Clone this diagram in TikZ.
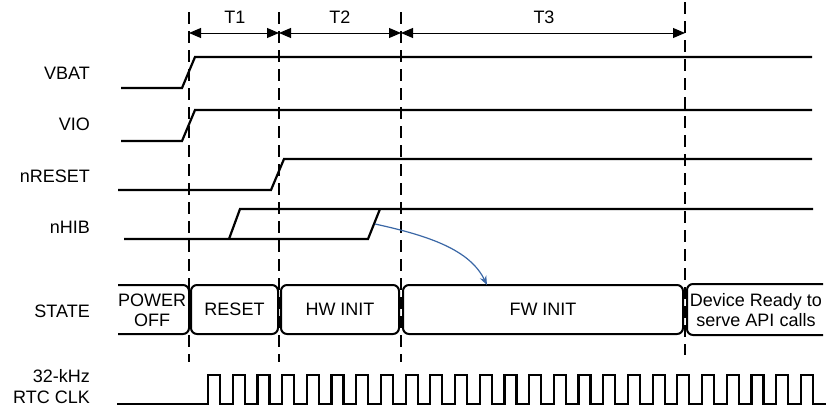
\documentclass[tikz,border=0pt]{standalone}
\usepackage{fontspec}
\setmainfont{Liberation Sans}
\usetikzlibrary{arrows.meta}
\definecolor{arrowblue}{HTML}{3A67A6}
\begin{document}
\begin{tikzpicture}[x=1pt,y=-1pt,
  every node/.style={inner sep=0pt, font=\fontsize{18}{20}\selectfont},
  siglabel/.style={anchor=base east},
  signal/.style={line width=2.2pt, line join=miter},
  dashline/.style={line width=1.3pt, dash pattern=on 12pt off 7pt},
  tarrow/.style={line width=1pt, {Triangle[length=12pt,width=10pt]}-{Triangle[length=12pt,width=10pt]}},
  statebox/.style={draw, line width=2pt, rounded corners=6pt, minimum height=49pt},
  openbox/.style={line width=2pt, rounded corners=6pt},
  wakearrow/.style={draw=arrowblue, line width=1.2pt, -{Stealth[length=9pt,width=7pt]}}]
\useasboundingbox (0,0) rectangle (828,410);

% dashed timing markers
\coordinate (d1t) at (189,12);  \coordinate (d1b) at (189,362);
\coordinate (d2t) at (279,12);  \coordinate (d2b) at (279,362);
\coordinate (d3t) at (401,12);  \coordinate (d3b) at (401,362);
\coordinate (d4t) at (685,2);   \coordinate (d4b) at (685,355);
\draw[dashline] (d1t) -- (d1b);
\draw[dashline] (d2t) -- (d2b);
\draw[dashline] (d3t) -- (d3b);
\draw[dashline] (d4t) -- (d4b);

% interval arrows
\coordinate (a1) at (189,33);
\coordinate (a2) at (279,33);
\coordinate (a3) at (401,33);
\coordinate (a4) at (685,33);
\draw[tarrow] (a1) -- (a2);
\draw[tarrow] (a2) -- (a3);
\draw[tarrow] (a3) -- (a4);
\node[anchor=base] (t1) at (235,23) {T1};
\node[anchor=base] (t2) at (340,23) {T2};
\node[anchor=base] (t3) at (544,23) {T3};

% signal labels
\node[siglabel] (lvbat) at (90,79) {VBAT};
\node[siglabel] (lvio) at (90,130) {VIO};
\node[siglabel] (lnreset) at (90,182) {nRESET};
\node[siglabel] (lnhib) at (90,233) {nHIB};
\node[siglabel] (lstate) at (90,317) {STATE};
\node[siglabel] (lclk1) at (90,382) {32-kHz};
\node[siglabel] (lclk2) at (90,403) {RTC CLK};

% waveforms
\draw[signal] (121,88) -- (182,88) -- (195,57) -- (812,57);
\draw[signal] (121,141) -- (182,141) -- (195,110) -- (812,110);
\draw[signal] (118,190) -- (271,190) -- (284,159) -- (812,159);
\draw[signal] (124,239) -- (368,239) -- (380,209);
\draw[signal] (229,239) -- (240,209) -- (813,209);

% clock
\draw[signal] (117,404) -- (208,404)
  \foreach \i in {0,...,24} { -- ++(0,-29) -- ++(12,0) -- ++(0,29) -- ++(12.7,0) };

% states
\draw[openbox] (118,285) -- (189,285) -- (189,334) -- (118,334);
\node[align=center] (poweroff) at (152,310) {POWER\\OFF};
\node[statebox, minimum width=87pt] (reset) at (234.5,309.5) {RESET};
\node[statebox, minimum width=118pt] (hwinit) at (340,309.5) {HW INIT};
\node[statebox, minimum width=280pt] (fwinit) at (543,309.5) {FW INIT};
\draw[openbox] (823,284) -- (687,284) -- (687,335) -- (823,335);
\node[align=center] (ready) at (756,310) {Device Ready to\\serve API calls};

% wake arrow
\coordinate (hibedge) at (375,224);
\coordinate (fwtop) at (487,285);
\draw[wakearrow] (hibedge) .. controls (430,236) and (470,250) .. (fwtop);
\end{tikzpicture}
\end{document}
